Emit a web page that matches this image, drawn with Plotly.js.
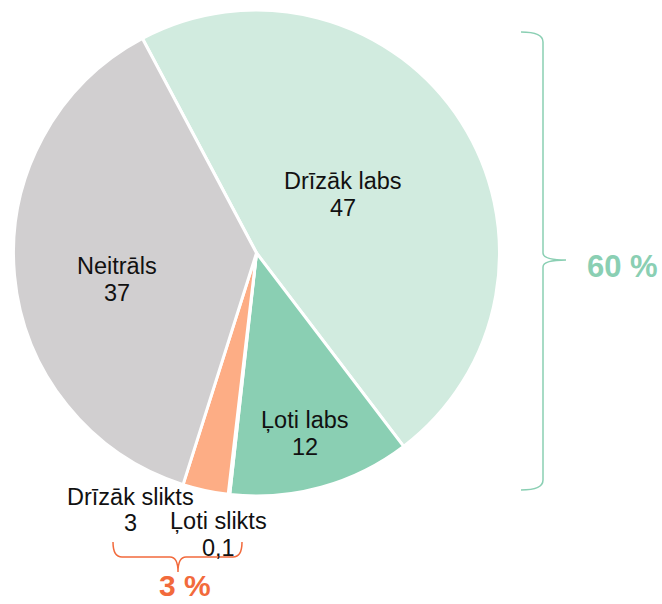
<!DOCTYPE html>
<html>
<head>
<meta charset="utf-8">
<script src="https://cdn.plot.ly/plotly-3.0.1.min.js"></script>
<style>html,body{margin:0;padding:0;background:#fff;}#chart{width:662px;height:604px;}</style>
</head>
<body>
<div id="chart"></div>
<script>
const labels = ['Drīzāk labs', 'Ļoti labs', 'Ļoti slikts', 'Drīzāk slikts', 'Neitrāls'];
const values = [47, 12, 0.1, 3, 37];
const colors = ['#d1ebdf', '#8acfb3', '#f07a50', '#fdad85', '#d1cfd0'];
const groupLabels = ['60 %', '3 %'];
const groupColors = ['#8acfb3', '#f26a3c'];

// text positions (pixels) for each slice label: [x, y of name line, y of value line]
const labelPos = [[343, 181, 208], [305, 420, 447], [218, 521, 548], [130, 497, 523], [117, 266, 293]];

function fmt(v) { return String(v).replace('.', ','); }

const FONT = 'Liberation Sans, Arial, sans-serif';
const annotations = [];
labels.forEach((l, i) => {
  annotations.push({x: labelPos[i][0], y: labelPos[i][1], xref: 'x', yref: 'y', text: l, showarrow: false,
    xanchor: 'center', yanchor: 'middle', font: {family: FONT, size: 23.5, color: '#111'}});
  annotations.push({x: labelPos[i][0], y: labelPos[i][2], xref: 'x', yref: 'y', text: fmt(values[i]), showarrow: false,
    xanchor: 'center', yanchor: 'middle', font: {family: FONT, size: 23.5, color: '#111'}});
});
annotations.push({x: 622, y: 266, xref: 'x', yref: 'y', text: '<b>' + groupLabels[0] + '</b>', showarrow: false,
  xanchor: 'center', yanchor: 'middle', font: {family: FONT, size: 31, color: groupColors[0]}});
annotations.push({x: 185, y: 604, xref: 'x', yref: 'y', text: '<b>' + groupLabels[1] + '</b>', showarrow: false,
  xanchor: 'center', yanchor: 'bottom', font: {family: FONT, size: 30, color: groupColors[1]}});

const shapes = [
  {type: 'path', xref: 'x', yref: 'y', line: {color: groupColors[0], width: 1.5},
   path: 'M 521 32 Q 543 32 543 42 L 543 253 Q 543 260 566 260 M 566 260 Q 543 260 543 267 L 543 480 Q 543 490 521 490'},
  {type: 'path', xref: 'x', yref: 'y', line: {color: groupColors[1], width: 1.5},
   path: 'M 113 542 Q 113 557 122 557 L 170 557 Q 178 557 178 572 M 178 572 Q 178 557 186 557 L 233 557 Q 242 557 242 542'}
];

const data = [{
  type: 'pie', labels: labels, values: values, sort: false, direction: 'clockwise',
  rotation: -28, marker: {colors: colors, line: {color: '#ffffff', width: 3}},
  textinfo: 'none', hoverinfo: 'label+value', showlegend: false,
  domain: {x: [13.5 / 662, 499.5 / 662], y: [1 - 496 / 604, 1 - 10 / 604]}
}];

const layout = {
  width: 662, height: 604, margin: {l: 0, r: 0, t: 0, b: 0},
  paper_bgcolor: '#fff', plot_bgcolor: 'rgba(0,0,0,0)', separators: ', ',
  showlegend: false,
  xaxis: {range: [0, 662], visible: false, fixedrange: true},
  yaxis: {range: [604, 0], visible: false, fixedrange: true},
  annotations: annotations, shapes: shapes
};

Plotly.newPlot('chart', data, layout, {displayModeBar: false, staticPlot: true});
</script>
</body>
</html>
